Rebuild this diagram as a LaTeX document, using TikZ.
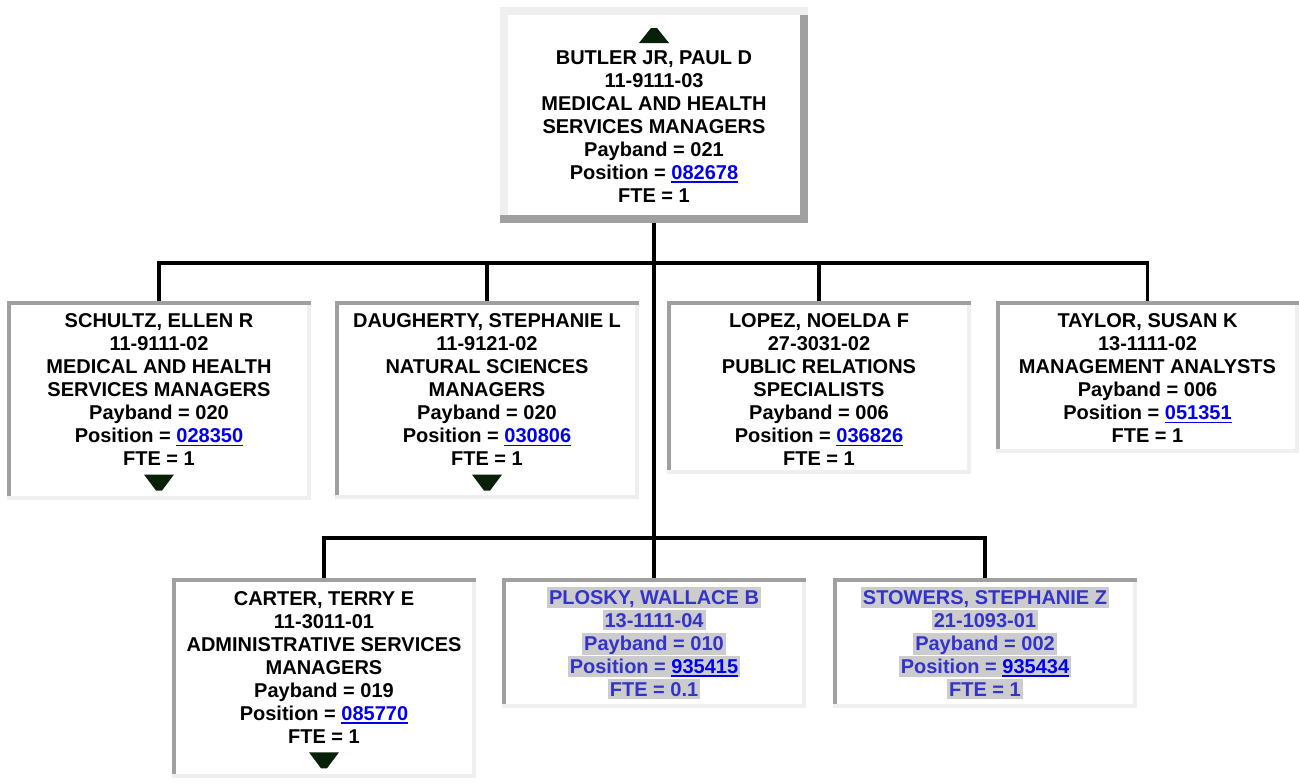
\documentclass[tikz,border=0pt]{standalone}
\usepackage{fontspec}
\setmainfont{Liberation Sans}
\usetikzlibrary{fit}
\definecolor{darkb}{RGB}{160,160,160}
\definecolor{lightb}{RGB}{239,239,239}
\definecolor{hlgray}{RGB}{204,204,204}
\definecolor{hltext}{RGB}{51,51,204}
\definecolor{linkblue}{RGB}{0,0,238}
\definecolor{arrowc}{RGB}{8,32,8}
\newcommand\strutx{\rule[-1.9pt]{0pt}{15pt}}
\newcommand\lnk[1]{{\color{linkblue}\setbox0\hbox{#1}\rlap{\rule[-2.6pt]{\wd0}{1.3pt}}\box0}}
\newcommand\hl[1]{{\fboxsep=0pt\colorbox{hlgray}{\kern1.5pt\strutx#1\kern1.5pt}}}
\newcommand\raisedframe[1]{%
  \fill[lightb] (#1.north west) rectangle (#1.south east);
  \fill[darkb] ([shift={(-8,8)}]#1.north east) rectangle (#1.south east);
  \fill[darkb] ([shift={(0,-8)}]#1.south west) rectangle (#1.south east);
  \fill[white] ([shift={(8,8)}]#1.north west) rectangle ([shift={(-8,-8)}]#1.south east);}
\newcommand\sunkenframe[1]{%
  \fill[darkb] (#1.north west) rectangle (#1.south east);
  \fill[lightb] ([shift={(-4,4)}]#1.north east) rectangle (#1.south east);
  \fill[lightb] ([shift={(0,-4)}]#1.south west) rectangle (#1.south east);
  \fill[white] ([shift={(4,4)}]#1.north west) rectangle ([shift={(-4,-4)}]#1.south east);}
\newcommand\downarrowat[1]{\fill[arrowc] ([shift={(-15,6)}]#1.south) -- ++(30,0) -- ++(-12,16) -- ++(-6,0) -- cycle;}
\begin{document}
\begin{tikzpicture}[x=0.75pt,y=-0.75pt,
  frame/.style={inner sep=0pt, draw=none},
  txt/.style={anchor=north, inner sep=0pt, align=center,
    font=\fontsize{15}{17.25}\selectfont\bfseries,
    execute at begin node=\strutx, execute at end node=\strutx},
  hltxt/.style={txt, text=hltext},
  conn/.style={line width=2.7pt, black}]
\useasboundingbox (0,0) rectangle (1299,783);
% box placeholders
\node[frame, fit={(500,7)(808,223)}] (butler) {};
\node[frame, fit={(7,301)(311,500)}] (schultz) {};
\node[frame, fit={(335,301)(639,499)}] (daugherty) {};
\node[frame, fit={(667,301)(971,474)}] (lopez) {};
\node[frame, fit={(996,301)(1299,453)}] (taylor) {};
\node[frame, fit={(172,578)(476,778)}] (carter) {};
\node[frame, fit={(502,578)(806,708)}] (plosky) {};
\node[frame, fit={(833,578)(1137,708)}] (stowers) {};
\coordinate (bus1) at (654,263);
\coordinate (bus2) at (654,538);
% connectors
\draw[conn] (butler.south) -- (butler.south |- bus2);
\draw[conn] (butler.south |- bus1) -| (schultz.north);
\draw[conn] (butler.south |- bus1) -| (daugherty.north);
\draw[conn] (butler.south |- bus1) -| (lopez.north);
\draw[conn] (butler.south |- bus1) -| (taylor.north);
\draw[conn] (butler.south |- bus2) -| (carter.north);
\draw[conn] (butler.south |- bus2) -- (plosky.north);
\draw[conn] (butler.south |- bus2) -| (stowers.north);
% frames
\raisedframe{butler}
\sunkenframe{schultz}
\sunkenframe{daugherty}
\sunkenframe{lopez}
\sunkenframe{taylor}
\sunkenframe{carter}
\sunkenframe{plosky}
\sunkenframe{stowers}
% texts
\node[txt] (butlerT) at ([shift={(0,43.3)}]butler.north) {BUTLER JR, PAUL D\\11-9111-03\\MEDICAL AND HEALTH\\SERVICES MANAGERS\\Payband = 021\\Position = \lnk{082678}\\FTE = 1};
\fill[arrowc] ([shift={(-15,-7)}]butlerT.north) -- ++(30,0) -- ++(-12,-15) -- ++(-6,0) -- cycle;
\node[txt] (schultzT) at ([shift={(0,12.8)}]schultz.north) {SCHULTZ, ELLEN R\\11-9111-02\\MEDICAL AND HEALTH\\SERVICES MANAGERS\\Payband = 020\\Position = \lnk{028350}\\FTE = 1};
\downarrowat{schultzT}
\node[txt] (daughertyT) at ([shift={(0,12.8)}]daugherty.north) {DAUGHERTY, STEPHANIE L\\11-9121-02\\NATURAL SCIENCES\\MANAGERS\\Payband = 020\\Position = \lnk{030806}\\FTE = 1};
\downarrowat{daughertyT}
\node[txt] (lopezT) at ([shift={(0,12.8)}]lopez.north) {LOPEZ, NOELDA F\\27-3031-02\\PUBLIC RELATIONS\\SPECIALISTS\\Payband = 006\\Position = \lnk{036826}\\FTE = 1};
\node[txt] (taylorT) at ([shift={(0,12.8)}]taylor.north) {TAYLOR, SUSAN K\\13-1111-02\\MANAGEMENT ANALYSTS\\Payband = 006\\Position = \lnk{051351}\\FTE = 1};
\node[txt] (carterT) at ([shift={(0,13.5)}]carter.north) {CARTER, TERRY E\\11-3011-01\\ADMINISTRATIVE SERVICES\\MANAGERS\\Payband = 019\\Position = \lnk{085770}\\FTE = 1};
\downarrowat{carterT}
\node[hltxt] (ploskyT) at ([shift={(0,9.2)}]plosky.north) {\hl{PLOSKY, WALLACE B}\\\hl{13-1111-04}\\\hl{Payband = 010}\\\hl{Position = \lnk{935415}}\\\hl{FTE = 0.1}};
\node[hltxt] (stowersT) at ([shift={(0,9.2)}]stowers.north) {\hl{STOWERS, STEPHANIE Z}\\\hl{21-1093-01}\\\hl{Payband = 002}\\\hl{Position = \lnk{935434}}\\\hl{FTE = 1}};
\end{tikzpicture}
\end{document}
